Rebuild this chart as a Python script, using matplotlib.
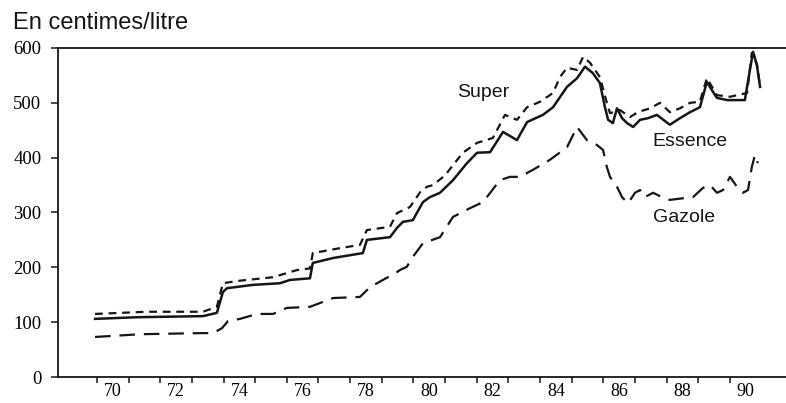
import matplotlib
matplotlib.use('Agg')
import matplotlib.pyplot as plt
import numpy as np

# prix a la pompe, en centimes/litre
ess_years = [1969.94, 1971.26, 1973.35, 1973.79, 1973.98, 1974.11, 1974.93, 1975.78, 1976.10,
             1976.73, 1976.82, 1977.46, 1978.40, 1978.53, 1979.26, 1979.48, 1979.67, 1979.98,
             1980.30, 1980.52, 1980.84, 1981.25, 1981.69, 1982.01, 1982.42, 1982.83, 1983.27,
             1983.59, 1984.09, 1984.41, 1984.85, 1985.17, 1985.42, 1985.67, 1985.89, 1986.05,
             1986.15, 1986.30, 1986.43, 1986.59, 1986.75, 1986.94, 1987.16, 1987.41, 1987.69,
             1988.10, 1988.42, 1988.74, 1989.05, 1989.27, 1989.43, 1989.59, 1989.91, 1990.47,
             1990.63, 1990.73, 1990.85, 1990.95]
essence = [106, 109, 111, 117, 155, 162, 168, 171, 177,
           180, 208, 217, 226, 250, 255, 272, 283, 286,
           319, 328, 336, 359, 390, 409, 410, 447, 432,
           465, 478, 492, 529, 545, 566, 554, 536, 492,
           469, 463, 490, 472, 463, 456, 469, 472, 478,
           460, 472, 483, 492, 538, 523, 509, 505, 505,
           560, 593, 569, 529]

sup_years = [1969.94, 1971.58, 1973.35, 1973.79, 1973.98, 1974.42, 1975.56, 1976.32, 1976.73,
             1976.82, 1977.68, 1978.31, 1978.53, 1979.26, 1979.48, 1979.89, 1980.21, 1980.43,
             1980.62, 1981.00, 1981.56, 1982.01, 1982.51, 1982.89, 1983.27, 1983.59, 1984.00,
             1984.41, 1984.63, 1984.85, 1985.17, 1985.36, 1985.58, 1985.89, 1986.11, 1986.21,
             1986.52, 1986.84, 1987.09, 1987.47, 1987.79, 1988.10, 1988.42, 1988.74, 1989.05,
             1989.27, 1989.59, 1990.00, 1990.54, 1990.69, 1990.85, 1990.95]
super_ = [115, 119, 119, 128, 171, 175, 182, 195, 198,
          226, 235, 241, 268, 274, 299, 310, 337, 347,
          350, 368, 409, 427, 436, 478, 469, 492, 502,
          518, 547, 564, 560, 584, 573, 547, 500, 481,
          487, 474, 483, 490, 500, 483, 490, 500, 502,
          545, 514, 511, 518, 591, 570, 532]

gaz_years = [1969.94, 1971.36, 1973.25, 1973.67, 1973.95, 1974.14, 1974.52, 1975.06, 1975.56,
             1976.00, 1976.73, 1977.05, 1977.46, 1978.31, 1978.63, 1979.16, 1979.35, 1979.57,
             1979.79, 1979.98, 1980.30, 1980.84, 1981.25, 1981.79, 1982.20, 1982.73, 1983.05,
             1983.36, 1983.78, 1984.31, 1984.85, 1985.17, 1985.48, 1985.80, 1985.99, 1986.11,
             1986.21, 1986.43, 1986.59, 1986.78, 1987.00, 1987.16, 1987.31, 1987.57, 1987.85,
             1988.10, 1988.52, 1988.83, 1989.15, 1989.37, 1989.59, 1989.78, 1990.00, 1990.22,
             1990.41, 1990.57, 1990.69, 1990.79, 1990.88]
gazole = [73, 78, 80, 80, 89, 102, 106, 115, 115,
          126, 128, 135, 144, 146, 164, 181, 186, 195,
          201, 219, 244, 255, 292, 308, 319, 359, 365,
          365, 378, 396, 419, 456, 432, 423, 414, 383,
          365, 347, 328, 317, 336, 341, 328, 336, 328,
          323, 326, 328, 345, 350, 336, 341, 365, 347,
          336, 341, 383, 405, 390]

year_ticks = list(range(1970, 1991))
year_labels = ['70', '72', '74', '76', '78', '80', '82', '84', '86', '88', '90']
y_ticks = [0, 100, 200, 300, 400, 500, 600]

serif = 'Liberation Serif'
sans = 'Liberation Sans'
ink = '#161616'

fig = plt.figure(figsize=(7.86, 4.03), dpi=100)
ax = fig.add_axes([58/786, 1 - 377/403, 1 - 58/786, (377 - 48)/403])

ax.plot(ess_years, essence, color=ink, lw=1.8, solid_joinstyle='round')
ax.plot(sup_years, super_, color=ink, lw=1.6, dashes=(3.5, 2.6))
ax.plot(gaz_years, gazole, color=ink, lw=1.6, dashes=(7, 4))

ax.text(1981.37, 518, 'Super', family=sans, fontsize=14, va='center', color=ink)
ax.text(1987.54, 429, 'Essence', family=sans, fontsize=14, va='center', color=ink)
ax.text(1987.57, 290, 'Gazole', family=sans, fontsize=14, va='center', color=ink)

ax.set_xlim(1968.77, 1991.77)
ax.set_ylim(0, 600)

ax.set_xticks(year_ticks)
ax.set_xticklabels([])
ax.set_xticks([int('19' + s) + 0.5 for s in year_labels], minor=True)
ax.set_xticklabels(year_labels, minor=True, family=serif, fontsize=13)
ax.tick_params(axis='x', which='major', direction='out', length=4, width=1.1, color=ink)
ax.tick_params(axis='x', which='minor', length=0, pad=4.5)

ax.set_yticks(y_ticks)
ax.set_yticklabels([str(v) for v in y_ticks], family=serif, fontsize=13.5)
ax.tick_params(axis='y', direction='out', length=5, width=1.1, color=ink, pad=7)

for side in ['left', 'bottom', 'top']:
    ax.spines[side].set_linewidth(1.3)
    ax.spines[side].set_color(ink)
ax.spines['right'].set_visible(False)

fig.text(13/786, 1 - 23/403, 'En centimes/litre', family=sans, fontsize=17,
         va='center', ha='left', color=ink)

fig.savefig('out.png', dpi=100)
